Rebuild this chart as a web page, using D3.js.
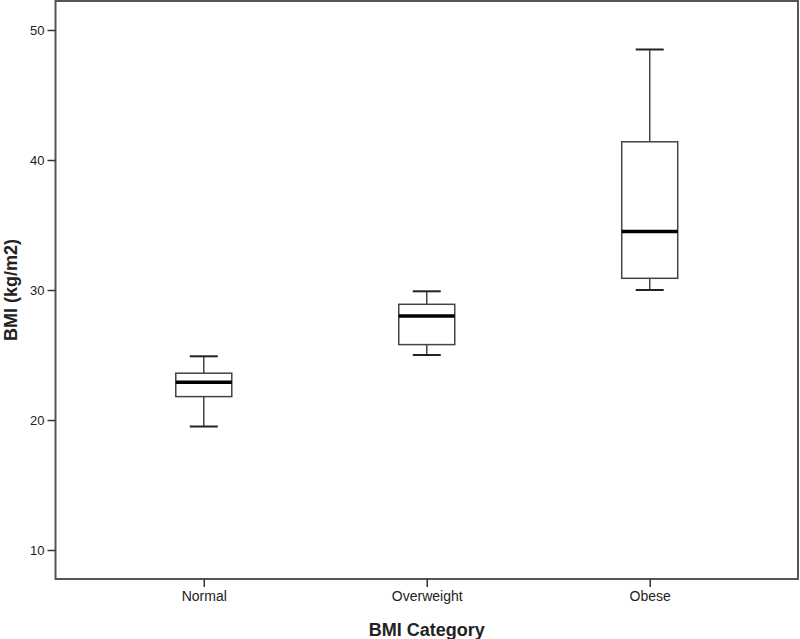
<!DOCTYPE html>
<html>
<head>
<meta charset="utf-8">
<script src="https://cdn.jsdelivr.net/npm/d3@7"></script>
<style>
  body { margin: 0; background: #fff; }
  svg { display: block; font-family: Arial, "Liberation Sans", sans-serif; }
</style>
</head>
<body>
<svg id="chart"></svg>
<script>
// box plot values
let categories = ['Normal', 'Overweight', 'Obese']
let whiskerLow = [19.5, 25.0, 30.0]
let q1 = [21.8, 25.8, 30.9]
let median = [22.9, 28.0, 34.5]
let q3 = [23.6, 28.9, 41.4]
let whiskerHigh = [24.9, 29.9, 48.5]
let yTicks = [10, 20, 30, 40, 50]

let width = 800, height = 639
let plotL = 55.5, plotR = 798, plotT = 1, plotB = 579

let svg = d3.select('#chart')
    .attr('width', width)
    .attr('height', height)

let x = d3.scalePoint()
    .domain(categories)
    .range([plotL, plotR])
    .padding(0.665)

let y = d3.scaleLinear()
    .domain([7.77, 52.23])
    .range([plotB, plotT])

let boxes = categories.map((c, i) => ({
    cat: c, lo: whiskerLow[i], q1: q1[i], med: median[i], q3: q3[i], hi: whiskerHigh[i]
}))

let boxW = 56, capW = 28
let stroke = '#444'

// frame
svg.append('rect')
    .attr('x', plotL)
    .attr('y', plotT)
    .attr('width', plotR - plotL)
    .attr('height', plotB - plotT)
    .attr('fill', 'none')
    .attr('stroke', '#555')
    .attr('stroke-width', 2)

let axisLeft = d3.axisLeft(y).tickValues(yTicks).tickSize(8).tickPadding(3)
let yAxis = svg.append('g')
    .attr('transform', `translate(${plotL}, 0)`)
    .call(axisLeft)
yAxis.select('.domain').remove()
yAxis.selectAll('line').attr('stroke', '#333').attr('stroke-width', 1.5)
yAxis.selectAll('text').attr('font-size', 13).attr('fill', '#222')
    .attr('font-family', 'Arial, "Liberation Sans", sans-serif')

let axisBottom = d3.axisBottom(x).tickSize(8).tickPadding(4)
let xAxis = svg.append('g')
    .attr('transform', `translate(0, ${plotB})`)
    .call(axisBottom)
xAxis.select('.domain').remove()
xAxis.selectAll('line').attr('stroke', '#333').attr('stroke-width', 1.5)
xAxis.selectAll('text').attr('font-size', 14).attr('fill', '#222')
    .attr('font-family', 'Arial, "Liberation Sans", sans-serif')

let g = svg.selectAll('.box')
    .data(boxes)
    .enter().append('g')
    .attr('class', 'box')

// whiskers
g.append('line')
    .attr('x1', d => x(d.cat)).attr('x2', d => x(d.cat))
    .attr('y1', d => y(d.hi)).attr('y2', d => y(d.q3))
    .attr('stroke', stroke).attr('stroke-width', 1.5)
g.append('line')
    .attr('x1', d => x(d.cat)).attr('x2', d => x(d.cat))
    .attr('y1', d => y(d.q1)).attr('y2', d => y(d.lo))
    .attr('stroke', stroke).attr('stroke-width', 1.5)
g.append('line')
    .attr('x1', d => x(d.cat) - capW / 2).attr('x2', d => x(d.cat) + capW / 2)
    .attr('y1', d => y(d.hi)).attr('y2', d => y(d.hi))
    .attr('stroke', '#222').attr('stroke-width', 2)
g.append('line')
    .attr('x1', d => x(d.cat) - capW / 2).attr('x2', d => x(d.cat) + capW / 2)
    .attr('y1', d => y(d.lo)).attr('y2', d => y(d.lo))
    .attr('stroke', '#222').attr('stroke-width', 2)

// box
g.append('rect')
    .attr('x', d => x(d.cat) - boxW / 2)
    .attr('y', d => y(d.q3))
    .attr('width', boxW)
    .attr('height', d => y(d.q1) - y(d.q3))
    .attr('fill', 'white')
    .attr('stroke', stroke)
    .attr('stroke-width', 1.5)

// median
g.append('line')
    .attr('x1', d => x(d.cat) - boxW / 2).attr('x2', d => x(d.cat) + boxW / 2)
    .attr('y1', d => y(d.med)).attr('y2', d => y(d.med))
    .attr('stroke', '#000').attr('stroke-width', 3.5)

// axis titles
svg.append('text')
    .text('BMI Category')
    .attr('x', (plotL + plotR) / 2)
    .attr('y', 636)
    .attr('text-anchor', 'middle')
    .attr('font-size', 18)
    .attr('font-weight', 'bold')
    .attr('fill', '#222')

svg.append('text')
    .text('BMI (kg/m2)')
    .attr('transform', `translate(17, ${(plotT + plotB) / 2}) rotate(-90)`)
    .attr('text-anchor', 'middle')
    .attr('font-size', 18)
    .attr('font-weight', 'bold')
    .attr('fill', '#222')
</script>
</body>
</html>
